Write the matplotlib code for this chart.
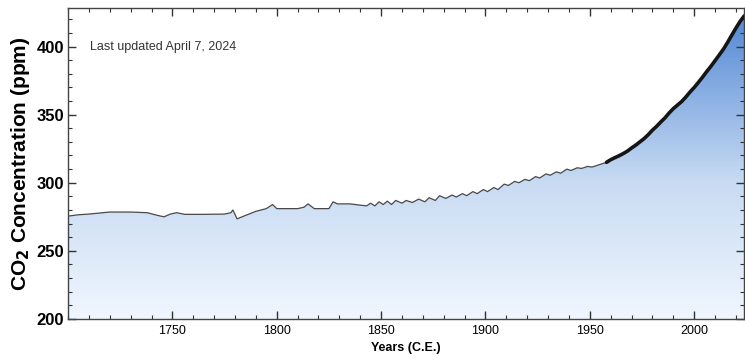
import numpy as np
import matplotlib
matplotlib.use("Agg")
import matplotlib.pyplot as plt
from matplotlib.colors import LinearSegmentedColormap
from matplotlib.ticker import MultipleLocator, FixedLocator

# Ice core record
ice_years = [1700, 1705, 1710, 1720, 1730, 1738, 1743, 1746, 1749, 1752,
             1756, 1765, 1775, 1778, 1779, 1781, 1785, 1790, 1795, 1798,
             1800, 1805, 1810, 1813, 1815, 1818, 1825, 1827, 1829, 1835,
             1843, 1845, 1847, 1849, 1851, 1853, 1855, 1857, 1860, 1862,
             1865, 1868, 1871, 1873, 1876, 1878, 1881, 1884, 1886, 1889,
             1891, 1894, 1896, 1899, 1901, 1904, 1906, 1909, 1911, 1914,
             1916, 1919, 1921, 1924, 1926, 1929, 1931, 1934, 1936, 1939,
             1941, 1944, 1946, 1949, 1951, 1954, 1958]
ice_ppm = [275.5, 276.5, 277.0, 278.5, 278.5, 278.0, 276.0, 275.0, 277.0, 278.0,
           276.8, 276.8, 277.0, 278.0, 280.0, 273.5, 276.0, 279.0, 281.0, 284.0,
           281.0, 281.0, 281.0, 282.0, 284.5, 281.0, 281.0, 286.0, 284.5, 284.5,
           283.0, 285.0, 283.0, 286.0, 284.0, 286.5, 284.0, 287.0, 285.0, 287.0,
           285.5, 288.0, 286.0, 289.0, 287.0, 290.5, 288.5, 291.0, 289.5, 292.0,
           290.5, 293.5, 292.0, 295.0, 293.5, 296.5, 295.0, 299.0, 298.0, 301.0,
           300.0, 302.5, 301.5, 304.5, 303.5, 306.5, 305.5, 308.0, 307.0, 310.0,
           309.0, 311.0, 310.5, 312.0, 311.5, 313.0, 315.0]

# Direct measurements (Mauna Loa)
ml_years = [1958, 1960, 1962, 1964, 1966, 1968, 1970, 1972, 1974, 1976,
            1978, 1980, 1982, 1984, 1986, 1988, 1990, 1992, 1994, 1996,
            1998, 2000, 2002, 2004, 2006, 2008, 2010, 2012, 2014, 2016,
            2018, 2020, 2022, 2024]
ml_ppm = [315.0, 316.9, 318.4, 319.8, 321.4, 323.2, 325.5, 327.6, 330.0, 332.4,
          335.3, 338.6, 341.4, 344.6, 347.6, 351.2, 354.4, 357.0, 359.6, 362.9,
          366.6, 369.9, 373.6, 377.5, 381.6, 385.4, 389.6, 393.8, 398.0, 403.0,
          408.3, 413.5, 418.4, 422.5]

xmin, xmax = 1700, 2024
ymin, ymax = 200, 428

plt.rcParams["font.family"] = ["Liberation Sans", "DejaVu Sans"]

fig = plt.figure(figsize=(7.45, 3.56), dpi=100)
ax = fig.add_axes([0.0913, 0.104, 0.9077, 0.8725])

all_years = ice_years + ml_years[1:]
all_ppm = ice_ppm + ml_ppm[1:]

# gradient fill under the curve
cmap = LinearSegmentedColormap.from_list(
    "co2", [(0.0, "#f0f6fe"), (0.44, "#c8dbf3"), (1.0, "#4d85d3")])
grad = np.linspace(0, 1, 256).reshape(-1, 1)
img = ax.imshow(grad, cmap=cmap, origin="lower", aspect="auto",
                extent=[xmin, xmax, ymin, ymax], zorder=1)
poly = ax.fill_between(all_years, ymin, all_ppm, color="none", lw=0)
clip = poly.get_paths()[0]
img.set_clip_path(clip, transform=ax.transData)

ax.plot(ice_years, ice_ppm, color="#4a4a4a", lw=0.9, zorder=3)
ax.plot(ml_years, ml_ppm, color="#151515", lw=2.6, zorder=3,
        solid_joinstyle="round", solid_capstyle="round")

ax.set_xlim(xmin, xmax)
ax.set_ylim(ymin, ymax)

ax.xaxis.set_major_locator(FixedLocator([1750, 1800, 1850, 1900, 1950, 2000]))
ax.xaxis.set_minor_locator(MultipleLocator(10))
ax.yaxis.set_major_locator(MultipleLocator(50))
ax.yaxis.set_minor_locator(MultipleLocator(10))
ax.tick_params(which="both", direction="in", top=True, right=True, color="#333333")
ax.tick_params(which="major", length=6, width=1)
ax.tick_params(which="minor", length=3, width=0.8)
ax.tick_params(axis="x", labelsize=9, pad=4)
ax.tick_params(axis="y", labelsize=12, pad=3)
for lab in ax.get_yticklabels():
    lab.set_fontweight("bold")

for sp in ax.spines.values():
    sp.set_color("#444444")
    sp.set_linewidth(1)

ax.set_xlabel("Years (C.E.)", fontsize=9, fontweight="bold", labelpad=4)
ax.set_ylabel("CO$_\\mathbf{2}$ Concentration (ppm)", fontsize=15,
              fontweight="bold", labelpad=3)

ax.text(1710.5, 400, "Last updated April 7, 2024", fontsize=9,
        color="#333333", va="center", ha="left")

fig.savefig("out.png", dpi=100)
